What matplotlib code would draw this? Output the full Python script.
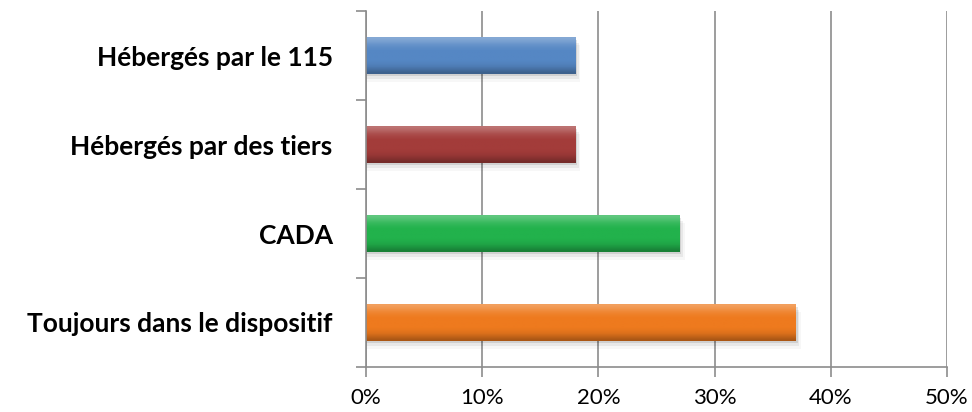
import numpy as np
import matplotlib.pyplot as plt
from matplotlib.colors import to_rgb
from matplotlib.ticker import PercentFormatter, MultipleLocator

# data (bottom to top)
categories = ["Toujours dans le dispositif", "CADA", "Hébergés par des tiers", "Hébergés par le 115"]
values = [37, 27, 18, 18]
colors = ["#EE7A1E", "#22B24C", "#A33C3A", "#5587C4"]

plt.rcParams['font.family'] = ['Lato', 'DejaVu Sans']

fig = plt.figure(figsize=(9.72, 4.12), dpi=100)
ax = fig.add_axes([366 / 972, 1 - 367 / 412, 581 / 972, 356 / 412])

y = np.arange(len(categories))
bar_h = 0.41
bars = ax.barh(y, values, height=bar_h, color=colors, zorder=3, linewidth=0)


def shade(c, f):
    c = np.array(to_rgb(c))
    if f > 0:
        return c + (1 - c) * f
    return c * (1 + f)


# bevel-like shading inside each bar
prof = np.array([0.28, 0.20, 0.10, 0.04, 0.0, 0.0, 0.0, 0.0, -0.03, -0.08, -0.18, -0.28])
for b, c in zip(bars, colors):
    x0, y0 = b.get_x(), b.get_y()
    w, h = b.get_width(), b.get_height()
    img = np.array([shade(c, f) for f in prof[::-1]])[:, None, :]
    im = ax.imshow(img, extent=(x0, x0 + w, y0, y0 + h), aspect='auto',
                   origin='lower', zorder=4, interpolation='bilinear')
    im.set_clip_path(b)
    # soft shadow below
    for k, a in enumerate([0.10, 0.06, 0.03]):
        ax.barh(y0 + h / 2 - 0.03 * (k + 1), w + 0.15 * (k + 1), height=h,
                left=x0, color='black', alpha=a, zorder=2, linewidth=0)

ax.set_xlim(0, 50)
ax.set_ylim(-0.5, len(categories) - 0.5)
ax.xaxis.set_major_locator(MultipleLocator(10))
ax.xaxis.set_major_formatter(PercentFormatter(decimals=0))
ax.grid(axis='x', color='#8c8c8c', linewidth=1.2, zorder=0)

ax.set_yticks(np.arange(-0.5, len(categories), 1.0))
ax.set_yticklabels([])
ax.set_yticks(y, minor=True)
ax.set_yticklabels(categories, minor=True, fontsize=19, fontweight='bold')
ax.tick_params(axis='y', which='minor', length=0, pad=24)
ax.tick_params(axis='y', which='major', length=7, color='#8c8c8c', width=1.2)
ax.tick_params(axis='x', length=7, color='#8c8c8c', width=1.2, labelsize=16, pad=8)

for s in ['top', 'right']:
    ax.spines[s].set_visible(False)
ax.spines['bottom'].set_visible(False)
ax.spines['left'].set_color('#8c8c8c')
ax.spines['left'].set_linewidth(1.2)
ax.spines['left'].set_zorder(5)
ax.axhline(-0.5, color='#8c8c8c', linewidth=1.2, zorder=1, clip_on=False)

fig.savefig("out.png", dpi=100)
